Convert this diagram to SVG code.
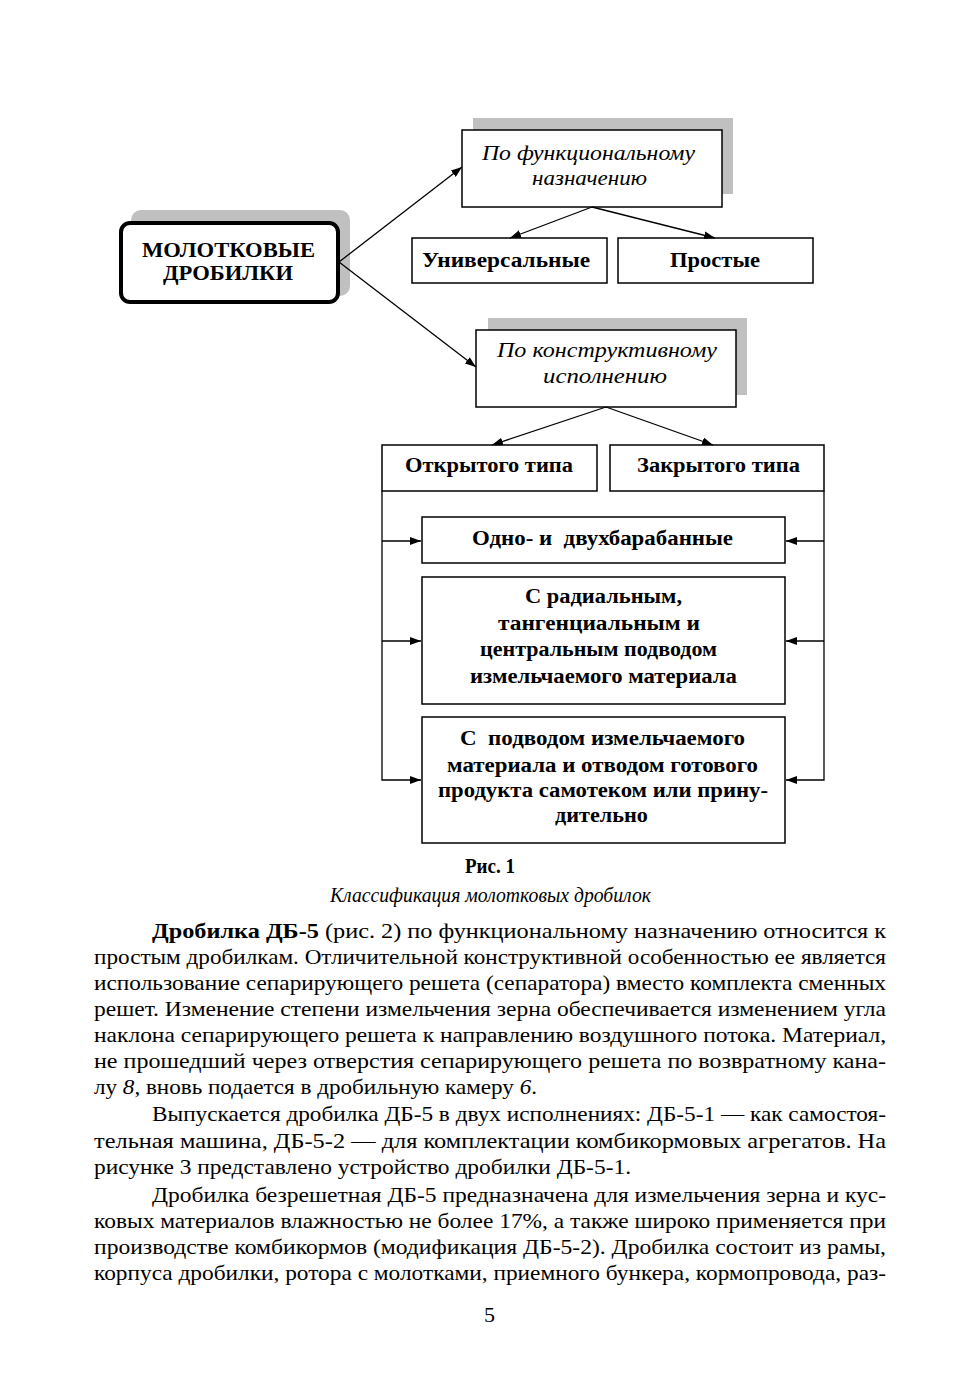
<svg xmlns="http://www.w3.org/2000/svg" width="980" height="1386" viewBox="0 0 980 1386">
<style>
.bx{fill:#fff;stroke:#000;stroke-width:1.5}
.sh{fill:#c0c0c0}
.b{font-family:"Liberation Serif","Times New Roman",serif;font-weight:bold;font-size:20px;fill:#000}
.i{font-family:"Liberation Serif","Times New Roman",serif;font-style:italic;font-size:21px;fill:#000}
.t{font-family:"Liberation Serif","Times New Roman",serif;font-size:22px;fill:#000}
.cn{fill:none;stroke:#000;stroke-width:1.3}
</style>
<defs>
<marker id="ah" markerUnits="userSpaceOnUse" markerWidth="11" markerHeight="8" refX="11" refY="4" orient="auto">
<path d="M0,0 L11,4 L0,8 z" fill="#000"/>
</marker>
</defs>
<rect width="980" height="1386" fill="#fff"/>

<g id="main">
<rect class="sh" x="131" y="210" width="219" height="86" rx="10"/>
<rect x="121" y="223" width="217" height="79" rx="9" fill="#fff" stroke="#000" stroke-width="4"/>
<text class="b" font-size="22" x="142" y="257" textLength="173" lengthAdjust="spacingAndGlyphs">МОЛОТКОВЫЕ</text>
<text class="b" font-size="22" x="163" y="280" textLength="130" lengthAdjust="spacingAndGlyphs">ДРОБИЛКИ</text>
</g>

<g id="func">
<rect class="sh" x="473" y="118" width="260" height="76"/>
<rect class="bx" x="462" y="130" width="260" height="77"/>
<text class="i" x="482" y="160" textLength="213" lengthAdjust="spacingAndGlyphs">По функциональному</text>
<text class="i" x="532" y="185" textLength="115" lengthAdjust="spacingAndGlyphs">назначению</text>
</g>

<g id="univ">
<rect class="bx" x="412" y="238" width="195" height="45"/>
<text class="b" x="422" y="267" textLength="168" lengthAdjust="spacingAndGlyphs">Универсальные</text>
</g>

<g id="simple">
<rect class="bx" x="618" y="238" width="195" height="45"/>
<text class="b" x="670" y="267" textLength="90" lengthAdjust="spacingAndGlyphs">Простые</text>
</g>

<g id="constr">
<rect class="sh" x="488" y="318" width="259" height="77"/>
<rect class="bx" x="476" y="330" width="260" height="77"/>
<text class="i" x="497" y="357" textLength="220" lengthAdjust="spacingAndGlyphs">По конструктивному</text>
<text class="i" x="543" y="383" textLength="124" lengthAdjust="spacingAndGlyphs">исполнению</text>
</g>

<g id="open">
<rect class="bx" x="382" y="445" width="215" height="46"/>
<text class="b" x="405" y="472" textLength="168" lengthAdjust="spacingAndGlyphs">Открытого типа</text>
</g>

<g id="closed">
<rect class="bx" x="610" y="445" width="214" height="46"/>
<text class="b" x="637" y="472" textLength="163" lengthAdjust="spacingAndGlyphs">Закрытого типа</text>
</g>

<g id="drum">
<rect class="bx" x="422" y="517" width="363" height="46"/>
<text class="b" x="472" y="545" textLength="261" lengthAdjust="spacingAndGlyphs" xml:space="preserve">Одно- и  двухбарабанные</text>
</g>

<g id="radial">
<rect class="bx" x="422" y="577" width="363" height="127"/>
<text class="b" x="525" y="603" textLength="157" lengthAdjust="spacingAndGlyphs">С радиальным,</text>
<text class="b" x="498" y="630" textLength="202" lengthAdjust="spacingAndGlyphs">тангенциальным и</text>
<text class="b" x="480" y="656" textLength="237" lengthAdjust="spacingAndGlyphs">центральным подводом</text>
<text class="b" x="470" y="683" textLength="267" lengthAdjust="spacingAndGlyphs">измельчаемого материала</text>
</g>

<g id="gravity">
<rect class="bx" x="422" y="717" width="363" height="126"/>
<text class="b" x="460" y="745" textLength="285" lengthAdjust="spacingAndGlyphs" xml:space="preserve">С  подводом измельчаемого</text>
<text class="b" x="447" y="772" textLength="311" lengthAdjust="spacingAndGlyphs">материала и отводом готового</text>
<text class="b" x="438" y="797" textLength="330" lengthAdjust="spacingAndGlyphs">продукта самотеком или прину-</text>
<text class="b" x="555" y="822" textLength="93" lengthAdjust="spacingAndGlyphs">дительно</text>
</g>

<g id="connectors">
<line class="cn" x1="339" y1="262" x2="462" y2="167" marker-end="url(#ah)"/>
<line class="cn" x1="339" y1="262" x2="476" y2="367" marker-end="url(#ah)"/>
<line class="cn" x1="592" y1="207" x2="510" y2="238" marker-end="url(#ah)"/>
<line class="cn" x1="592" y1="207" x2="715" y2="238" marker-end="url(#ah)"/>
<line class="cn" x1="606" y1="407" x2="492" y2="445" marker-end="url(#ah)"/>
<line class="cn" x1="606" y1="407" x2="713" y2="445" marker-end="url(#ah)"/>
<polyline class="cn" points="382,491 382,780 421,780" marker-end="url(#ah)"/>
<line class="cn" x1="382" y1="541" x2="421" y2="541" marker-end="url(#ah)"/>
<line class="cn" x1="382" y1="641" x2="421" y2="641" marker-end="url(#ah)"/>
<polyline class="cn" points="824,491 824,780 786,780" marker-end="url(#ah)"/>
<line class="cn" x1="824" y1="541" x2="786" y2="541" marker-end="url(#ah)"/>
<line class="cn" x1="824" y1="641" x2="786" y2="641" marker-end="url(#ah)"/>
</g>

<g id="caption">
<text class="b" font-size="19" x="465" y="873" textLength="50" lengthAdjust="spacingAndGlyphs">Рис. 1</text>
<text class="i" font-size="19" x="330" y="902" textLength="321" lengthAdjust="spacingAndGlyphs">Классификация молотковых дробилок</text>
</g>

<g id="body">
<text class="t" x="152" y="938" textLength="734" lengthAdjust="spacingAndGlyphs"><tspan font-weight="bold">Дробилка ДБ-5</tspan> (рис. 2) по функциональному назначению относится к</text>
<text class="t" x="94" y="964" textLength="792" lengthAdjust="spacingAndGlyphs">простым дробилкам. Отличительной конструктивной особенностью ее является</text>
<text class="t" x="94" y="990" textLength="792" lengthAdjust="spacingAndGlyphs">использование сепарирующего решета (сепаратора) вместо комплекта сменных</text>
<text class="t" x="94" y="1016" textLength="792" lengthAdjust="spacingAndGlyphs">решет. Изменение степени измельчения зерна обеспечивается изменением угла</text>
<text class="t" x="94" y="1042" textLength="792" lengthAdjust="spacingAndGlyphs">наклона сепарирующего решета к направлению воздушного потока. Материал,</text>
<text class="t" x="94" y="1068" textLength="792" lengthAdjust="spacingAndGlyphs">не прошедший через отверстия сепарирующего решета по возвратному кана-</text>
<text class="t" x="94" y="1094" textLength="443" lengthAdjust="spacingAndGlyphs">лу <tspan font-style="italic">8</tspan>, вновь подается в дробильную камеру <tspan font-style="italic">6</tspan>.</text>
<text class="t" x="152" y="1121" textLength="734" lengthAdjust="spacingAndGlyphs">Выпускается дробилка ДБ-5 в двух исполнениях: ДБ-5-1 — как самостоя-</text>
<text class="t" x="94" y="1148" textLength="792" lengthAdjust="spacingAndGlyphs">тельная машина, ДБ-5-2 — для комплектации комбикормовых агрегатов. На</text>
<text class="t" x="94" y="1174" textLength="537" lengthAdjust="spacingAndGlyphs">рисунке 3 представлено устройство дробилки ДБ-5-1.</text>
<text class="t" x="152" y="1202" textLength="734" lengthAdjust="spacingAndGlyphs">Дробилка безрешетная ДБ-5 предназначена для измельчения зерна и кус-</text>
<text class="t" x="94" y="1228" textLength="792" lengthAdjust="spacingAndGlyphs">ковых материалов влажностью не более 17%, а также широко применяется при</text>
<text class="t" x="94" y="1254" textLength="792" lengthAdjust="spacingAndGlyphs">производстве комбикормов (модификация ДБ-5-2). Дробилка состоит из рамы,</text>
<text class="t" x="94" y="1280" textLength="792" lengthAdjust="spacingAndGlyphs">корпуса дробилки, ротора с молотками, приемного бункера, кормопровода, раз-</text>
<text class="t" x="484" y="1322">5</text>
</g>
</svg>
